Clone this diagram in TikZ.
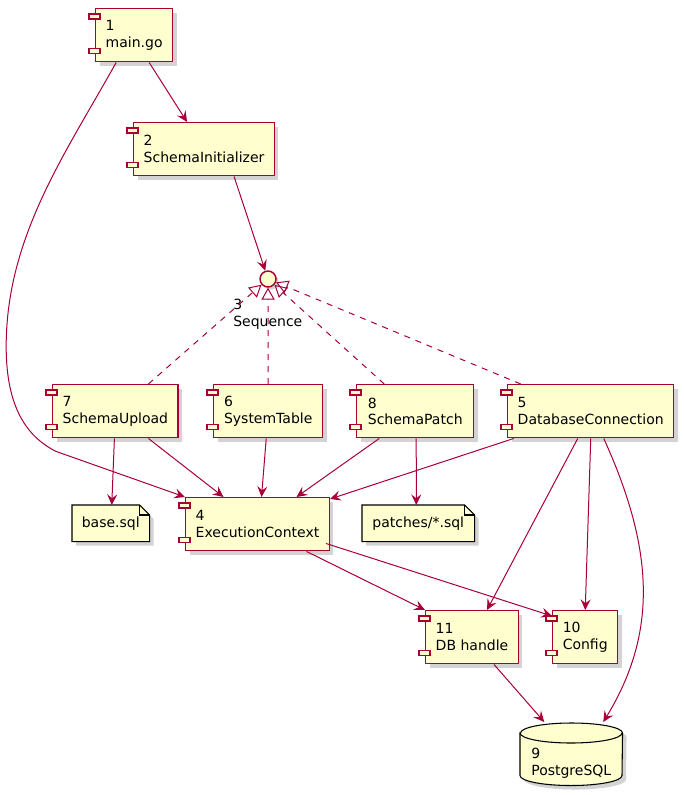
\documentclass[tikz,border=0pt]{standalone}
\usepackage{fontspec}
\setmainfont{DejaVu Sans}
\usetikzlibrary{arrows.meta,calc,shadows,backgrounds}
\definecolor{umlRed}{RGB}{168,0,54}
\definecolor{umlFill}{RGB}{254,254,206}
\tikzset{
  comp/.style={draw=umlRed, fill=umlFill, line width=1.1pt, anchor=north west,
               align=left, font=\fontsize{10.5}{12.5}\selectfont, inner xsep=7.5pt,
               minimum height=39.75pt,
               drop shadow={shadow xshift=3pt, shadow yshift=-3pt, opacity=0.35}},
  tab/.style={draw=umlRed, fill=umlFill, line width=0.9pt},
  notebox/.style={anchor=north west, align=left, font=\fontsize{10.5}{12.5}\selectfont,
                  minimum height=27pt},
  noteline/.style={draw=black, fill=umlFill, line width=0.8pt},
  dep/.style={-{Stealth[length=8pt, width=7.5pt, inset=3pt]}, draw=umlRed, line width=0.75pt},
  real/.style={-{Triangle[open, length=9pt, width=10pt]}, draw=umlRed, line width=0.75pt,
               dash pattern=on 4.5pt off 4.5pt},
}

\begin{document}
\begin{tikzpicture}[x=0.75pt, y=-0.75pt]
\useasboundingbox (0,0) rectangle (683,795);

% components
\node[comp, minimum width=56.25pt]  (main)   at (95,8)    {1\\main.go};
\node[comp, minimum width=101.25pt] (init)   at (133,122) {2\\SchemaInitializer};
\node[comp, minimum width=93.75pt]  (upload) at (52,384)  {7\\SchemaUpload};
\node[comp, minimum width=81.75pt]  (systab) at (213,384) {6\\SystemTable};
\node[comp, minimum width=87.75pt]  (patch)  at (356,384) {8\\SchemaPatch};
\node[comp, minimum width=124.5pt]  (dbconn) at (507,384) {5\\DatabaseConnection};
\node[comp, minimum width=106.5pt]  (exec)   at (185,497) {4\\ExecutionContext};
\node[comp, minimum width=69pt]     (dbh)    at (425,610) {11\\DB handle};
\node[comp, minimum width=48.75pt]  (conf)   at (552,610) {10\\Config};

\foreach \c in {main,init,upload,systab,patch,dbconn,exec,dbh,conf} {
  \draw[tab] ($(\c.north west)+(-6,6)$) rectangle ++(11,5);
  \draw[tab] ($(\c.south west)+(-6,-14)$) rectangle ++(11,5);
}

% interface
\node[circle, draw=umlRed, fill=umlFill, line width=1.1pt, minimum size=12pt, inner sep=0pt,
      drop shadow={shadow xshift=2pt, shadow yshift=-2pt, opacity=0.35}] (seq) at (268,279) {};
\node[anchor=north west, align=left, inner sep=0pt, font=\fontsize{10.5}{12.5}\selectfont]
  (seqlbl) at (233,299) {3\\Sequence};

% notes
\node[notebox, minimum width=57.75pt] (base)    at (72,505)  {base.sql};
\node[notebox, minimum width=84pt]    (patches) at (362,505) {patches/*.sql};

% database
\node[anchor=north west, align=left, minimum width=76.5pt, minimum height=33pt,
      font=\fontsize{10.5}{12.5}\selectfont] (pg) at (520,741) {9\\PostgreSQL};

\begin{scope}[on background layer]
\foreach \n in {base,patches} {
  \path[noteline, drop shadow={shadow xshift=3pt, shadow yshift=-3pt, opacity=0.35}]
    (\n.north west) -- ($(\n.north east)+(-10,0)$) -- ($(\n.north east)+(0,10)$)
    -- (\n.south east) -- (\n.south west) -- cycle;
  \draw[line width=0.8pt] ($(\n.north east)+(-10,0)$) -- ($(\n.north east)+(-10,10)$)
    -- ($(\n.north east)+(0,10)$);
}
\path[noteline, drop shadow={shadow xshift=3pt, shadow yshift=-3pt, opacity=0.35}]
  ($(pg.north west)+(0,-8)$) -- ($(pg.south west)+(0,-10)$)
  arc[start angle=180, end angle=360, x radius=38.25pt, y radius=7.5pt]
  -- ($(pg.north east)+(0,-8)$)
  arc[start angle=0, end angle=180, x radius=38.25pt, y radius=7.5pt] -- cycle;
\draw[line width=0.8pt] ($(pg.north west)+(0,-8)$)
  arc[start angle=180, end angle=360, x radius=38.25pt, y radius=7.5pt];
\end{scope}

% realisations of Sequence
\draw[real] ($(upload.north)+(33,0)$) -- (seq);
\draw[real] (systab.north) -- (seq);
\draw[real] ($(patch.north)+(-31,0)$) -- (seq);
\draw[real] ($(dbconn.north)+(-70,0)$) -- (seq);

% dependencies
\draw[dep] ($(main.south)+(15,0)$) -- ($(init.north)+(-17,0)$);
\draw[dep] ($(main.south)+(-18,0)$) .. controls +(-50,90) and +(0,-110) .. ++(-110,284)
  .. controls +(0,60) and +(-30,-15) .. ++(50,105) -- (exec.north west);
\draw[dep] ($(init.south)+(30,0)$) -- (seq);
\draw[dep] ($(upload.south)+(-1,0)$) -- ($(base.north)+(1,0)$);
\draw[dep] ($(upload.south)+(33,0)$) -- ($(exec.north)+(-34,0)$);
\draw[dep] ($(systab.south)+(-2,0)$) -- ($(exec.north)+(4,0)$);
\draw[dep] ($(patch.south)+(-36,0)$) -- ($(exec.north)+(39,0)$);
\draw[dep] ($(dbconn.south)+(-77,0)$) -- ($(exec.north east)+(0,2)$);
\draw[dep] ($(patch.south)+(1,0)$) -- ($(patches.north)+(-2,0)$);
\draw[dep] ($(dbconn.south)+(-13,0)$) -- ($(dbh.north)+(15,0)$);
\draw[dep] (dbconn.south) -- (conf.north);
\draw[dep] ($(dbconn.south)+(13,0)$) .. controls +(50,110) and +(55,-90) .. ($(pg.north)+(32,-19)$);
\draw[dep] ($(exec.south)+(49,0)$) -- (dbh.north west);
\draw[dep] ($(exec.south east)+(-4,-8)$) -- ($(conf.north west)+(0,6)$);
\draw[dep] ($(dbh.south)+(22,0)$) -- ($(pg.north)+(-27,-19)$);
\end{tikzpicture}
\end{document}
